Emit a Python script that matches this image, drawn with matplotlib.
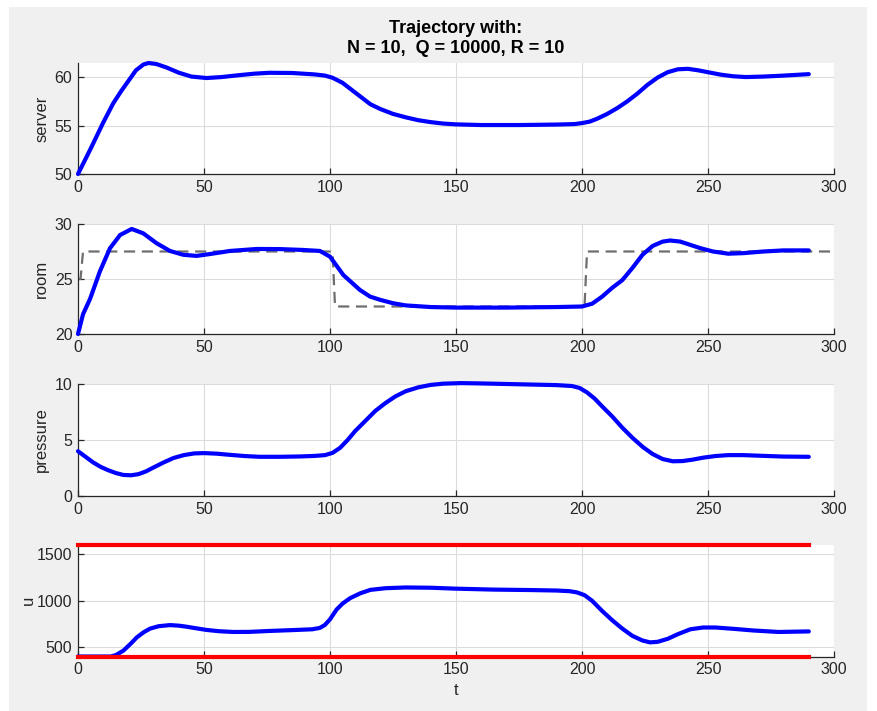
import matplotlib
matplotlib.use('Agg')
import matplotlib.pyplot as plt

plt.rcParams['font.family'] = ['Liberation Sans', 'DejaVu Sans']

# server temperature
srv_t = [0, 5, 10, 14, 17, 20, 23, 26, 28, 31, 35, 40, 45, 51, 57, 63, 70, 76, 85, 94, 98, 101, 105, 109, 113, 116,
         120, 125, 130, 135, 140, 145, 150, 160, 175, 190, 197, 200, 203, 206, 210, 214, 218, 222, 226, 230, 234,
         238, 242, 246, 250, 255, 260, 265, 272, 280, 290]
srv_v = [50.0, 52.6, 55.3, 57.3, 58.5, 59.6, 60.7, 61.3, 61.45, 61.35, 61.0, 60.45, 60.05, 59.9, 60.0, 60.17, 60.35,
         60.44, 60.42, 60.27, 60.15, 59.93, 59.4, 58.6, 57.8, 57.2, 56.7, 56.2, 55.85, 55.55, 55.35, 55.2, 55.12,
         55.05, 55.05, 55.1, 55.15, 55.25, 55.4, 55.7, 56.2, 56.8, 57.5, 58.3, 59.2, 59.95, 60.5, 60.8, 60.85,
         60.7, 60.5, 60.25, 60.08, 60.0, 60.05, 60.15, 60.3]

# room temperature + reference
room_t = [0, 2, 4.8, 8.7, 12.7, 16.7, 21.3, 25.9, 31.2, 36.5, 41.8, 47, 52.4, 60.3, 70.9, 80, 89.4, 96, 100, 105.3,
          111.9, 115.9, 120, 125, 130, 140, 150, 170, 190, 200, 204, 208, 212, 216, 220, 224, 228, 232, 235, 239,
          243, 247, 252, 258, 264, 272, 280, 290]
room_v = [20.0, 21.8, 23.2, 25.7, 27.8, 29.0, 29.55, 29.15, 28.25, 27.55, 27.2, 27.1, 27.27, 27.55, 27.73, 27.72,
          27.64, 27.55, 27.03, 25.36, 24.0, 23.4, 23.1, 22.8, 22.6, 22.45, 22.4, 22.4, 22.45, 22.5, 22.75, 23.4,
          24.2, 24.9, 26.0, 27.2, 28.0, 28.4, 28.5, 28.4, 28.1, 27.8, 27.5, 27.3, 27.35, 27.5, 27.6, 27.6]
ref_t = [0, 1, 2, 101, 102, 201, 202, 300]
ref_v = [25.0, 25.0, 27.5, 27.5, 22.5, 22.5, 27.5, 27.5]

# pressure
pr_t = [0, 3, 6, 9, 12, 15, 18, 21, 24, 27, 30, 34, 38, 42, 46, 50, 55, 60, 66, 72, 80, 88, 94, 98, 101, 104, 107,
        110, 114, 118, 122, 126, 130, 135, 140, 145, 152, 160, 170, 180, 190, 196, 199, 202, 205, 208, 212, 216,
        220, 224, 228, 232, 236, 240, 244, 248, 253, 258, 264, 270, 280, 290]
pr_v = [4.0, 3.5, 3.0, 2.6, 2.3, 2.05, 1.88, 1.85, 1.95, 2.2, 2.55, 3.0, 3.4, 3.65, 3.8, 3.83, 3.78, 3.68, 3.57, 3.5,
        3.5, 3.53, 3.58, 3.65, 3.85, 4.3, 5.0, 5.8, 6.7, 7.6, 8.3, 8.9, 9.35, 9.7, 9.92, 10.03, 10.08, 10.05, 10.0,
        9.95, 9.9, 9.82, 9.65, 9.25, 8.7, 8.0, 7.1, 6.1, 5.2, 4.4, 3.75, 3.3, 3.1, 3.12, 3.25, 3.42, 3.57, 3.65,
        3.65, 3.6, 3.52, 3.5]

# input u with bounds
u_t = [0, 13, 15, 18, 21, 23.3, 26, 28.6, 32, 36.5, 40, 43, 47, 51, 56, 61.6, 68, 76, 85, 93, 96, 98, 100, 102.6,
       105, 108, 112, 116, 122, 130, 140, 150, 165, 180, 190, 195, 198, 201, 204, 208, 212, 216, 220, 224, 227,
       230, 234, 238, 243, 248, 253, 260, 268, 278, 290]
u_v = [400, 400, 415, 463, 540, 605, 660, 700, 726, 738, 732, 721, 703, 686, 672, 664, 665, 675, 684, 693, 708, 740,
       800, 905, 970, 1028, 1080, 1117, 1135, 1143, 1140, 1130, 1120, 1115, 1110, 1103, 1090, 1060, 1000, 890, 790,
       700, 622, 572, 552, 558, 590, 640, 693, 712, 712, 698, 680, 664, 670]
u_lo = [400, 400]
u_hi = [1600, 1600]
bnd_t = [0, 290]

fig = plt.figure(figsize=(8.77, 7.11), dpi=100, facecolor='white')
fig.patches.append(plt.Rectangle((9 / 877, 0), 858 / 877, 704 / 711, transform=fig.transFigure,
                                 facecolor='#f0f0f0', edgecolor='none', zorder=-10))

left, width = 78 / 877, 756 / 877
boxes = [(63, 174), (224, 334), (384, 496), (545, 656.5)]
axs = []
for top, bot in boxes:
    ax = fig.add_axes([left, (711 - bot) / 711, width, (bot - top) / 711])
    axs.append(ax)

blue = dict(color='#0000ff', lw=3.0, solid_capstyle='round', solid_joinstyle='round', clip_on=False, zorder=3)

axs[0].plot(srv_t, srv_v, **blue)
axs[0].set_ylim(50, 61.45)
axs[0].set_yticks([50, 55, 60])
axs[0].set_ylabel('server')

axs[1].plot(ref_t, ref_v, color='#6e6e6e', lw=1.6, ls=(0, (5, 3)), clip_on=False, zorder=2)
axs[1].plot(room_t, room_v, **blue)
axs[1].set_ylim(20, 30)
axs[1].set_yticks([20, 25, 30])
axs[1].set_ylabel('room')

axs[2].plot(pr_t, pr_v, **blue)
axs[2].set_ylim(0, 10)
axs[2].set_yticks([0, 5, 10])
axs[2].set_ylabel('pressure')

axs[3].plot(u_t, u_v, **blue)
axs[3].plot(bnd_t, u_lo, color='#ff0000', lw=3.0, clip_on=False, zorder=4)
axs[3].plot(bnd_t, u_hi, color='#ff0000', lw=3.0, clip_on=False, zorder=4)
axs[3].set_ylim(400, 1600)
axs[3].set_yticks([500, 1000, 1500])
axs[3].set_ylabel('u', labelpad=1)
axs[3].set_xlabel('t', fontsize=12, color='#262626', labelpad=4)

for ax in axs:
    ax.set_xlim(0, 300)
    ax.set_xticks([0, 50, 100, 150, 200, 250, 300])
    ax.set_facecolor('white')
    ax.grid(True, color='#dcdcdc', lw=0.8)
    ax.set_axisbelow(True)
    ax.spines['top'].set_visible(False)
    ax.spines['right'].set_visible(False)
    for s in ('left', 'bottom'):
        ax.spines[s].set_color('#262626')
        ax.spines[s].set_linewidth(0.9)
    ax.tick_params(direction='in', length=4, width=0.9, colors='#262626', labelsize=11.5, pad=4)
    ax.yaxis.label.set_size(12)
    ax.yaxis.label.set_color('#262626')

axs[0].set_title('Trajectory with:\nN = 10,  Q = 10000, R = 10', fontsize=13, fontweight='bold',
                 color='black', pad=7, linespacing=1.25)

fig.savefig('out.png', dpi=100, facecolor=fig.get_facecolor())
